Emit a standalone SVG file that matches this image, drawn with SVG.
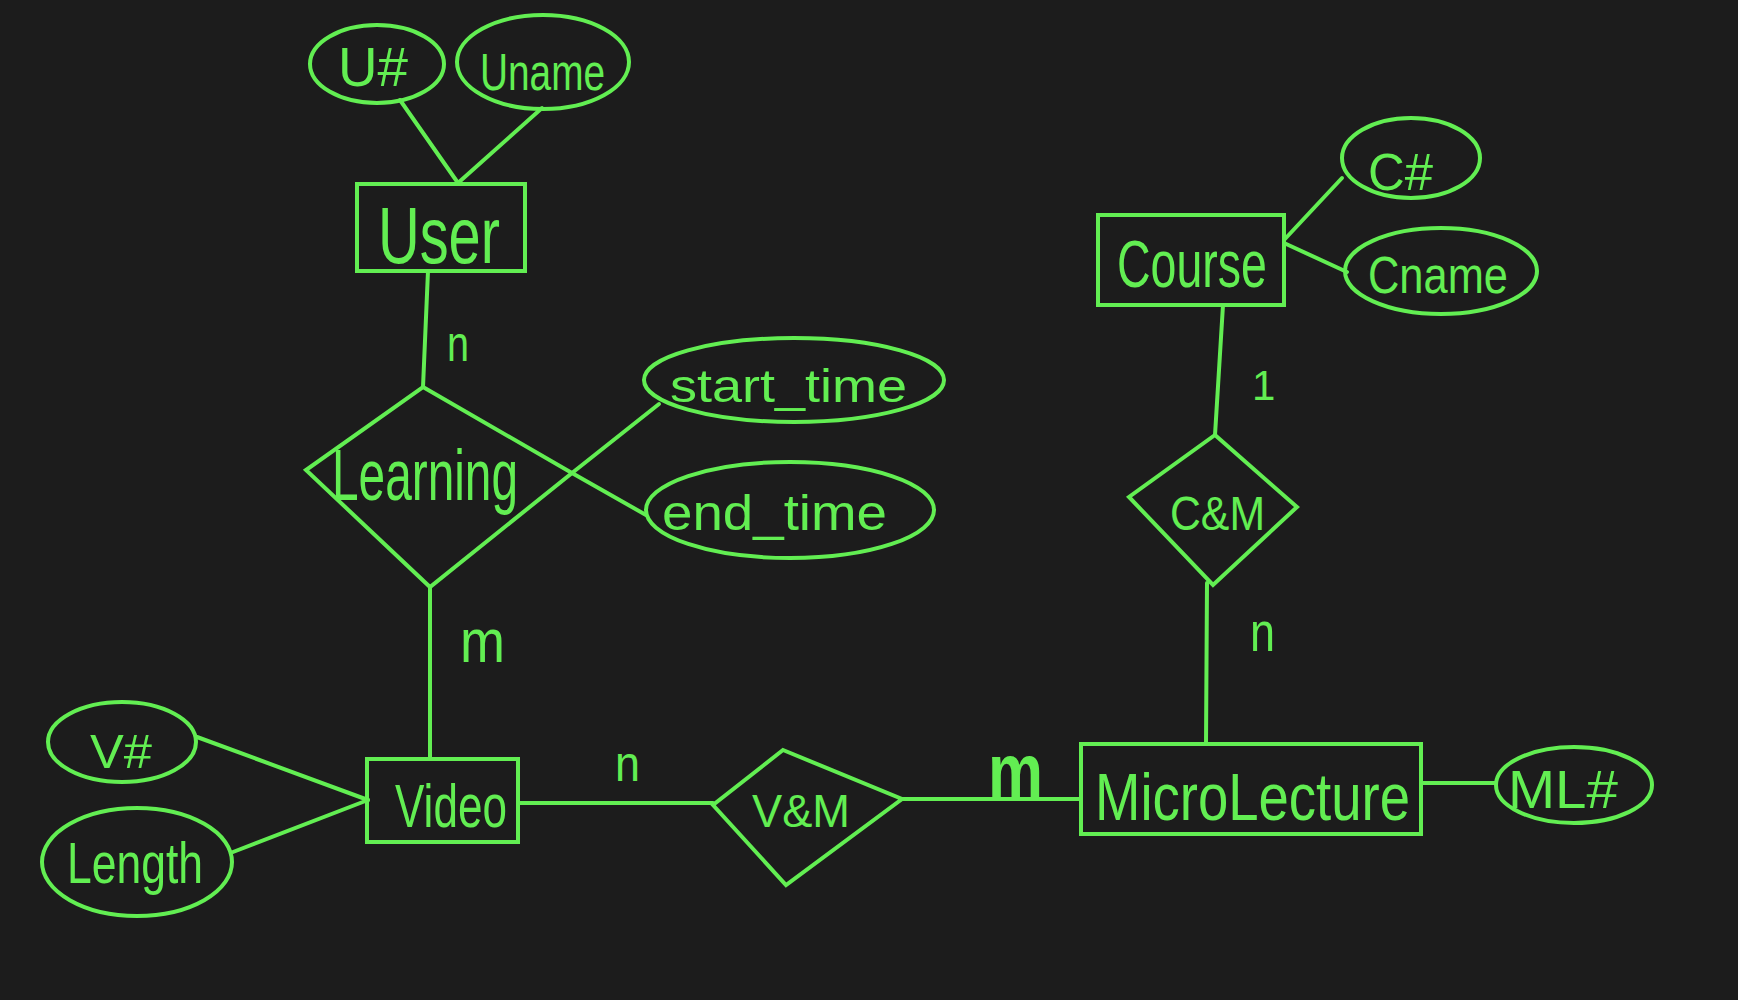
<svg xmlns="http://www.w3.org/2000/svg" width="1738" height="1000" viewBox="0 0 1738 1000">
<style>
.s{fill:none;stroke:#62ee52;stroke-width:4;stroke-linejoin:miter;stroke-linecap:round}
.t{fill:#62ee52;font-family:"Liberation Sans",Arial,sans-serif}
</style>
<rect width="1738" height="1000" fill="#1c1c1c"/>
<g id="connectors" class="s">
<line x1="400" y1="100" x2="458" y2="183"/>
<line x1="542" y1="108" x2="458" y2="183"/>
<line x1="428" y1="271" x2="423" y2="387"/>
<line x1="572" y1="473" x2="646" y2="515"/>
<line x1="572" y1="473" x2="659" y2="404"/>
<line x1="430" y1="587" x2="430" y2="759"/>
<line x1="197" y1="737" x2="368" y2="800"/>
<line x1="233" y1="852" x2="368" y2="800"/>
<line x1="518" y1="803" x2="713" y2="803"/>
<line x1="902" y1="799" x2="1081" y2="799"/>
<line x1="1421" y1="783" x2="1496" y2="783"/>
<line x1="1206" y1="744" x2="1207" y2="583"/>
<line x1="1223" y1="305" x2="1215" y2="435"/>
<line x1="1284" y1="240" x2="1342" y2="178"/>
<line x1="1284" y1="243" x2="1347" y2="272"/>
</g>
<g id="U_num"><ellipse class="s" cx="377" cy="64" rx="67" ry="39"/><text class="t" x="338" y="86" font-size="56" textLength="70" lengthAdjust="spacingAndGlyphs">U#</text></g>
<g id="Uname"><ellipse class="s" cx="543" cy="62" rx="86" ry="47"/><text class="t" x="480" y="90" font-size="52" textLength="125" lengthAdjust="spacingAndGlyphs">Uname</text></g>
<g id="User"><rect class="s" x="357" y="184" width="168" height="87"/><text class="t" x="378" y="263" font-size="80" textLength="122" lengthAdjust="spacingAndGlyphs">User</text></g>
<g id="Learning"><polygon class="s" points="423,387 572,473 430,587 306,470"/><text class="t" x="332" y="500" font-size="72" textLength="186" lengthAdjust="spacingAndGlyphs">Learning</text></g>
<g id="start_time"><ellipse class="s" cx="794" cy="380" rx="150" ry="42"/><text class="t" x="670" y="402" font-size="46" textLength="237" lengthAdjust="spacingAndGlyphs">start_time</text></g>
<g id="end_time"><ellipse class="s" cx="790" cy="510" rx="144" ry="48"/><text class="t" x="662" y="530" font-size="50" textLength="225" lengthAdjust="spacingAndGlyphs">end_time</text></g>
<g id="Video"><rect class="s" x="367" y="759" width="151" height="83"/><text class="t" x="395" y="827" font-size="62" textLength="112" lengthAdjust="spacingAndGlyphs">Video</text></g>
<g id="V_num"><ellipse class="s" cx="122" cy="742" rx="74" ry="40"/><text class="t" x="90" y="768" font-size="48" textLength="62" lengthAdjust="spacingAndGlyphs">V#</text></g>
<g id="Length"><ellipse class="s" cx="137" cy="862" rx="95" ry="54"/><text class="t" x="67" y="883" font-size="58" textLength="136" lengthAdjust="spacingAndGlyphs">Length</text></g>
<g id="VM"><polygon class="s" points="783,750 902,799 786,885 713,805"/><text class="t" x="752" y="827" font-size="46" textLength="98" lengthAdjust="spacingAndGlyphs">V&amp;M</text></g>
<g id="MicroLecture"><rect class="s" x="1081" y="744" width="340" height="90"/><text class="t" x="1095" y="820" font-size="66" textLength="315" lengthAdjust="spacingAndGlyphs">MicroLecture</text></g>
<g id="ML_num"><ellipse class="s" cx="1574" cy="785" rx="78" ry="38"/><text class="t" x="1508" y="808" font-size="54" textLength="110" lengthAdjust="spacingAndGlyphs">ML#</text></g>
<g id="CM"><polygon class="s" points="1215,435 1297,507 1213,585 1129,497"/><text class="t" x="1170" y="530" font-size="48" textLength="95" lengthAdjust="spacingAndGlyphs">C&amp;M</text></g>
<g id="Course"><rect class="s" x="1098" y="215" width="186" height="90"/><text class="t" x="1117" y="287" font-size="66" textLength="150" lengthAdjust="spacingAndGlyphs">Course</text></g>
<g id="C_num"><ellipse class="s" cx="1411" cy="158" rx="69" ry="40"/><text class="t" x="1368" y="190" font-size="52" textLength="65" lengthAdjust="spacingAndGlyphs">C#</text></g>
<g id="Cname"><ellipse class="s" cx="1441" cy="271" rx="96" ry="43"/><text class="t" x="1368" y="293" font-size="52" textLength="140" lengthAdjust="spacingAndGlyphs">Cname</text></g>
<g id="labels">
<text class="t" x="447" y="361" font-size="50" textLength="22" lengthAdjust="spacingAndGlyphs">n</text>
<text class="t" x="460" y="662" font-size="62" textLength="45" lengthAdjust="spacingAndGlyphs">m</text>
<text class="t" x="615" y="781" font-size="50" textLength="25" lengthAdjust="spacingAndGlyphs">n</text>
<text class="t" x="988" y="797" font-size="76" font-weight="bold" textLength="55" lengthAdjust="spacingAndGlyphs">m</text>
<text class="t" x="1250" y="651" font-size="56" textLength="25" lengthAdjust="spacingAndGlyphs">n</text>
<text class="t" x="1252" y="400" font-size="42">1</text>
</g>
</svg>
